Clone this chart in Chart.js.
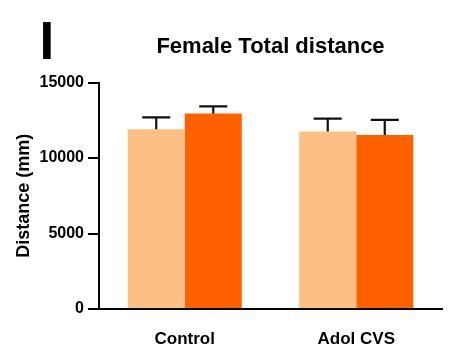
<!DOCTYPE html>
<html>
<head>
<meta charset="utf-8">
<script src="https://cdn.jsdelivr.net/npm/chart.js@4/dist/chart.umd.min.js"></script>
<style>
  html, body { margin: 0; padding: 0; background: #fff; }
  #wrap { width: 452px; height: 346px; position: relative; }
</style>
</head>
<body>
<div id="wrap"><canvas id="c" width="452" height="346"></canvas></div>
<script>
const panelLetter = 'I';
const chartTitle = 'Female Total distance';
const yAxisTitle = 'Distance (mm)';
const categories = ['Control', 'Adol CVS'];
const yTicks = [0, 5000, 10000, 15000];
const lightMeans = [11900, 11750];
const lightSem = [790, 860];
const darkMeans = [12950, 11520];
const darkSem = [470, 1010];

const FONT = "'Liberation Sans', Arial, Helvetica, sans-serif";

const headerPlugin = {
  id: 'header',
  afterDraw(chart) {
    const ctx = chart.ctx;
    const area = chart.chartArea;
    ctx.save();
    ctx.fillStyle = '#000';
    ctx.textBaseline = 'alphabetic';
    ctx.textAlign = 'left';
    ctx.font = 'bold 53px ' + FONT;
    ctx.fillText(panelLetter, 39.5, 58.5);
    ctx.textAlign = 'center';
    ctx.font = 'bold 22px ' + FONT;
    ctx.fillText(chartTitle, (area.left + area.right) / 2, 52.5);
    ctx.restore();
  }
};

const errorBarPlugin = {
  id: 'errorBars',
  afterDatasetsDraw(chart) {
    const ctx = chart.ctx;
    const yScale = chart.scales.y;
    ctx.save();
    ctx.strokeStyle = '#111';
    ctx.lineWidth = 2.2;
    chart.data.datasets.forEach((ds, i) => {
      const meta = chart.getDatasetMeta(i);
      meta.data.forEach((bar, j) => {
        const topY = yScale.getPixelForValue(ds.data[j] + ds.errors[j]);
        const half = 14;
        ctx.beginPath();
        ctx.moveTo(bar.x, bar.y);
        ctx.lineTo(bar.x, topY);
        ctx.moveTo(bar.x - half, topY);
        ctx.lineTo(bar.x + half, topY);
        ctx.stroke();
      });
    });
    ctx.restore();
  }
};

new Chart(document.getElementById('c'), {
  type: 'bar',
  data: {
    labels: categories,
    datasets: [
      { label: 'Group 1', data: lightMeans, errors: lightSem, backgroundColor: '#FEBF84', borderWidth: 0 },
      { label: 'Group 2', data: darkMeans, errors: darkSem, backgroundColor: '#FF6100', borderWidth: 0 }
    ]
  },
  options: {
    responsive: false,
    animation: false,
    devicePixelRatio: 1,
    categoryPercentage: 0.665,
    barPercentage: 1,
    layout: { padding: { left: 0, right: 10, top: 82.5, bottom: 0 } },
    plugins: {
      legend: { display: false },
      title: { display: false },
      tooltip: { enabled: false }
    },
    scales: {
      x: {
        grid: { display: false },
        border: { display: true, color: '#000', width: 2 },
        ticks: { color: '#000', font: { family: FONT, size: 17, weight: 'bold' }, padding: 12 },
        afterFit(scale) { scale.height = 37; }
      },
      y: {
        min: 0,
        max: 15000,
        afterBuildTicks(scale) { scale.ticks = yTicks.map(v => ({ value: v })); },
        grid: { display: true, drawOnChartArea: false, drawTicks: true, tickLength: 11, color: '#000', lineWidth: 2 },
        border: { display: true, color: '#000', width: 2 },
        ticks: {
          color: '#000',
          font: { family: FONT, size: 16, weight: 'bold' },
          padding: 4,
          callback: (v) => String(v)
        },
        title: {
          display: true,
          text: yAxisTitle,
          color: '#000',
          font: { family: FONT, size: 18, weight: 'bold' },
          padding: { top: 13, bottom: 0 }
        },
        afterFit(scale) { scale.width = 99; }
      }
    }
  },
  plugins: [headerPlugin, errorBarPlugin]
});
</script>
</body>
</html>
